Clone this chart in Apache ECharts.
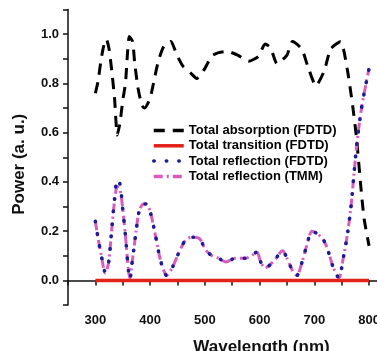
<!DOCTYPE html>
<html>
<head>
<meta charset="utf-8">
<script src="https://cdn.jsdelivr.net/npm/echarts@6/dist/echarts.min.js"></script>
<style>
  html, body { margin: 0; padding: 0; background: #fff; }
  #chart { width: 377px; height: 351px; }
</style>
</head>
<body>
<div id="chart"></div>
<script>
// wavelength (nm) / value pairs
const absorptionWl = [300, 305, 310, 315, 320, 325, 330, 335, 340, 345, 350, 355, 358, 362, 368, 372, 378, 385, 390, 400, 408, 415, 425, 438, 448, 460, 475, 485, 500, 512, 525, 540, 560, 580, 598, 610, 620, 632, 650, 660, 677, 688, 703, 718, 730, 748, 760, 770, 777, 785, 791, 800];
const absorption = [0.76, 0.81, 0.89, 0.95, 0.98, 0.94, 0.85, 0.74, 0.59, 0.64, 0.73, 0.80, 0.90, 0.99, 0.97, 0.88, 0.78, 0.71, 0.70, 0.74, 0.82, 0.89, 0.95, 0.97, 0.92, 0.87, 0.84, 0.82, 0.86, 0.91, 0.925, 0.93, 0.915, 0.89, 0.91, 0.96, 0.945, 0.88, 0.915, 0.97, 0.94, 0.87, 0.79, 0.85, 0.94, 0.97, 0.86, 0.71, 0.58, 0.38, 0.25, 0.14];

const transitionWl = [300, 550, 800];
const transition = [0, 0, 0];

const reflectionWl = [300, 305, 311, 318, 324, 330, 335, 340, 345, 350, 355, 360, 363, 367, 375, 380, 388, 393, 400, 410, 418, 425, 430, 440, 452, 465, 476, 490, 501, 513, 525, 538, 556, 575, 585, 595, 602, 610, 620, 630, 642, 650, 660, 668, 677, 686, 696, 705, 715, 722, 728, 735, 745, 752, 760, 767, 772, 778, 787, 800];
const reflectionFdtd = [0.24, 0.17, 0.10, 0.035, 0.07, 0.21, 0.33, 0.41, 0.39, 0.29, 0.18, 0.05, 0.005, 0.07, 0.21, 0.28, 0.31, 0.31, 0.28, 0.18, 0.09, 0.04, 0.02, 0.05, 0.11, 0.165, 0.175, 0.17, 0.125, 0.10, 0.09, 0.075, 0.09, 0.09, 0.10, 0.115, 0.075, 0.05, 0.065, 0.09, 0.12, 0.09, 0.04, 0.02, 0.07, 0.14, 0.20, 0.19, 0.17, 0.14, 0.10, 0.05, 0.01, 0.08, 0.18, 0.30, 0.42, 0.56, 0.71, 0.86];
const reflectionTmm = [0.24, 0.17, 0.10, 0.03, 0.07, 0.21, 0.32, 0.38, 0.37, 0.29, 0.18, 0.05, 0.01, 0.07, 0.21, 0.28, 0.31, 0.31, 0.28, 0.18, 0.09, 0.04, 0.02, 0.05, 0.11, 0.165, 0.175, 0.17, 0.125, 0.10, 0.09, 0.075, 0.09, 0.09, 0.10, 0.115, 0.075, 0.05, 0.065, 0.09, 0.12, 0.09, 0.04, 0.02, 0.07, 0.14, 0.20, 0.19, 0.17, 0.14, 0.10, 0.05, 0.01, 0.08, 0.18, 0.30, 0.42, 0.56, 0.71, 0.86];

const seriesNames = ["Total absorption (FDTD)", "Total transition (FDTD)", "Total reflection (FDTD)", "Total reflection (TMM)"];

const FONT = "'Liberation Sans', Arial, sans-serif";

function pairs(xs, ys) {
  return xs.map((x, i) => [x, ys[i]]);
}

const chart = echarts.init(document.getElementById("chart"));
chart.setOption({
  animation: false,
  backgroundColor: "#fff",
  grid: { left: 68, right: -3, top: 9.5, bottom: 46, outerBoundsMode: "none" },
  legend: {
    data: seriesNames,
    orient: "vertical",
    left: 147,
    top: 119,
    itemWidth: 30,
    itemHeight: 14,
    itemGap: 2.3,
    itemStyle: { opacity: 0 },
    lineStyle: { width: 3.5 },
    textStyle: { fontFamily: FONT, fontWeight: "bold", fontSize: 13, color: "#000" },
  },
  xAxis: {
    type: "value",
    min: 250,
    max: 820,
    interval: 50,
    name: "Wavelength (nm)",
    nameLocation: "middle",
    nameGap: 34,
    nameTextStyle: { fontFamily: FONT, fontWeight: "bold", fontSize: 17, color: "#111", padding: [0, 0, 0, 75] },
    axisLine: { lineStyle: { color: "#111", width: 1.5 } },
    axisTick: { length: 5, lineStyle: { color: "#111", width: 1.5 } },
    axisLabel: {
      margin: 9,
      fontFamily: FONT,
      fontWeight: "bold",
      fontSize: 13,
      color: "#111",
      formatter: (v) => (v % 100 === 0 && v >= 300 ? String(v) : ""),
    },
    splitLine: { show: false },
  },
  yAxis: {
    type: "value",
    min: -0.1,
    max: 1.1,
    interval: 0.1,
    name: "Power (a. u.)",
    nameLocation: "middle",
    nameGap: 40,
    nameTextStyle: { fontFamily: FONT, fontWeight: "bold", fontSize: 17, color: "#111", padding: [0, 14, 0, 0] },
    axisLine: { show: true, lineStyle: { color: "#111", width: 1.5 } },
    axisTick: { show: true, length: 5, lineStyle: { color: "#111", width: 1.5 } },
    axisLabel: {
      margin: 9,
      fontFamily: FONT,
      fontWeight: "bold",
      fontSize: 13,
      color: "#111",
      formatter: (v) => {
        const k = Math.round(v * 10);
        return k % 2 === 0 && k >= 0 && k <= 10 ? (k / 10).toFixed(1) : "";
      },
    },
    splitLine: { show: false },
  },
  series: [
    {
      name: seriesNames[0],
      type: "line",
      data: pairs(absorptionWl, absorption),
      smooth: 0.2,
      symbol: "none",
      itemStyle: { color: "#000" },
      lineStyle: { color: "#000", width: 3, type: [11, 8] },
      z: 2,
    },
    {
      name: seriesNames[3],
      type: "line",
      data: pairs(reflectionWl, reflectionTmm),
      smooth: 0.3,
      symbol: "none",
      itemStyle: { color: "#d95bbd" },
      lineStyle: { color: "#d95bbd", width: 3, type: [9, 4, 2, 4] },
      z: 3,
    },
    {
      name: seriesNames[2],
      type: "line",
      data: pairs(reflectionWl, reflectionFdtd),
      smooth: 0.3,
      symbol: "none",
      itemStyle: { color: "#1c1c96" },
      lineStyle: { color: "#1c1c96", width: 3.6, type: [0.5, 12], cap: "round" },
      z: 4,
    },
    {
      name: seriesNames[1],
      type: "line",
      data: pairs(transitionWl, transition),
      symbol: "none",
      itemStyle: { color: "#e3211b" },
      lineStyle: { color: "#e3211b", width: 3.5 },
      z: 5,
    },
  ],
});
</script>
</body>
</html>
